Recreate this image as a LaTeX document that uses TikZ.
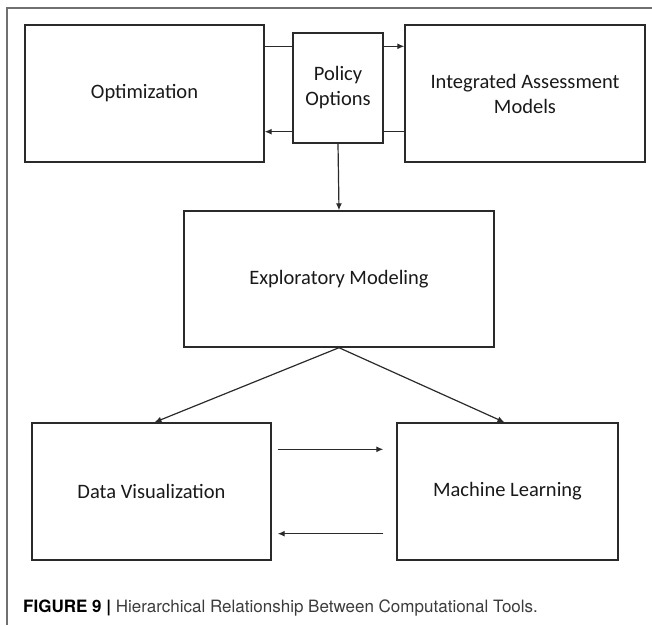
\documentclass[tikz,border=0pt]{standalone}
\usepackage{fontspec}
\setmainfont{Carlito}
\newfontfamily\capfont{TeX Gyre Heros}
\usepackage{tikz}
\usetikzlibrary{arrows.meta}
\definecolor{framegray}{HTML}{707070}
\definecolor{boxline}{HTML}{2A2A2A}
\definecolor{captext}{HTML}{3C3C3C}

\begin{document}
\begin{tikzpicture}[x=1pt,y=-1pt,
  tool/.style={draw=boxline,line width=1.4pt,align=center,inner sep=0pt,
    text=black!90,font=\fontsize{20.5}{25}\selectfont},
  link/.style={draw=boxline,line width=1.2pt},
  flow/.style={link,-{Latex[length=7pt,width=6pt]}}]
\useasboundingbox (0,0) rectangle (652,625);
% page frame
\draw[framegray,line width=1.5pt] (7,625) -- (7,8) -- (652,8);
\node[tool,minimum width=239pt,minimum height=137pt] (opt) at (144.5,93.5) {Optimization};
\node[tool,minimum width=90pt,minimum height=110pt] (pol) at (338,88) {Policy\\Options};
\node[tool,minimum width=240pt,minimum height=137pt] (iam) at (525,93.5) {Integrated Assessment\\Models};
\node[tool,minimum width=310pt,minimum height=136pt] (expl) at (339,279) {Exploratory Modeling};
\node[tool,minimum width=239pt,minimum height=137pt] (dvis) at (151.5,491.5) {Data Visualization};
\node[tool,minimum width=221pt,minimum height=137pt] (ml) at (507.5,491.5) {Machine Learning};
% top row links
\draw[link] ([yshift=-22pt]opt.north east) -- ([yshift=-14pt]pol.north west);
\draw[flow] ([yshift=-14pt]pol.north east) -- ([yshift=-22pt]iam.north west);
\draw[link] ([yshift=31pt]iam.south west) -- ([yshift=12pt]pol.south east);
\draw[flow] ([yshift=12pt]pol.south west) -- ([yshift=31pt]opt.south east);
\draw[flow] (pol.south) -- (expl.north);
\draw[flow] (expl.south) -- ([xshift=3pt]dvis.north);
\draw[flow] (expl.south) -- ([xshift=-3pt]ml.north);
% bottom row links
\draw[flow] ([xshift=6pt,yshift=-27pt]dvis.north east) -- ([xshift=-13pt,yshift=-27pt]ml.north west);
\draw[flow] ([xshift=-13pt,yshift=27pt]ml.south west) -- ([xshift=6pt,yshift=27pt]dvis.south east);
\node[anchor=base west,inner sep=0pt,font=\capfont\fontsize{17}{20}\selectfont] (cap) at (23,612)
  {\textbf{FIGURE 9 |} \textcolor{captext}{Hierarchical Relationship Between Computational Tools.}};
\end{tikzpicture}
\end{document}
